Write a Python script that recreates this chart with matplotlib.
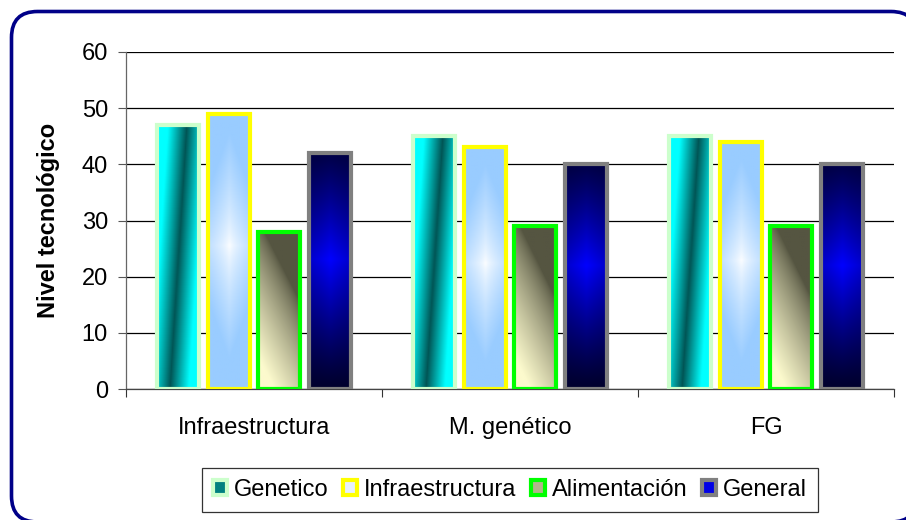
import numpy as np
import matplotlib
matplotlib.use('Agg')
import matplotlib.pyplot as plt
from matplotlib.patches import FancyBboxPatch, Patch

plt.rcParams['font.family'] = ['Liberation Sans', 'DejaVu Sans']

categories = ['Infraestructura', 'M. genético', 'FG']
series_names = ['Genetico', 'Infraestructura', 'Alimentación', 'General']
genetico = [47, 45, 45]
infraestructura = [49, 43, 44]
alimentacion = [28, 29, 29]
general = [42, 40, 40]
y_ticks = [0, 10, 20, 30, 40, 50, 60]
y_label = 'Nivel tecnológico'

values = [genetico, infraestructura, alimentacion, general]
edge_colors = ['#ccffcc', '#ffff00', '#00ff00', '#808080']
legend_faces = ['#008080', '#e6f0ff', '#b4b48c', '#0000e6']


def grad(kind, ny=160, nx=40):
    y = np.linspace(0, 1, ny)[:, None] * np.ones((1, nx))
    x = np.ones((ny, 1)) * np.linspace(0, 1, nx)[None, :]
    if kind == 0:
        u = x - 0.5 - 0.4 * (y - 0.5)
        t = np.clip(np.abs(u) / 0.45, 0, 1)[..., None]
        dark = np.array([0, 85, 85]) / 255
        light = np.array([0, 255, 255]) / 255
        return dark * (1 - t) + light * t
    if kind == 1:
        t = np.clip(2.4 * np.abs(y - 0.52) + 1.0 * np.abs(x - 0.5), 0, 1) ** 0.7
        t = t[..., None]
        white = np.array([1, 1, 1])
        blue = np.array([153, 204, 255]) / 255
        return white * (1 - t) + blue * t
    if kind == 2:
        L = np.clip((1 - y) * 1.15 - 0.6 * x + 0.08, 0, 1) ** 0.75
        L = L[..., None]
        dark = np.array([85, 85, 65]) / 255
        cream = np.array([252, 250, 205]) / 255
        return dark * (1 - L) + cream * L
    t = np.clip(1 - np.abs(y - 0.55) / 0.55, 0, 1) ** 1.2
    t = t * (1 - 0.25 * np.abs(x - 0.5) * 2)
    t = t[..., None]
    dark = np.array([0, 0, 45]) / 255
    blue = np.array([0, 0, 255]) / 255
    return dark * (1 - t) + blue * t


fig = plt.figure(figsize=(9.06, 5.2), dpi=100)

frame = FancyBboxPatch((11.5 / 100, -2 / 100), (917 - 11.5) / 100, (508.5 + 2) / 100,
                       boxstyle='round,pad=0,rounding_size=0.26',
                       transform=fig.dpi_scale_trans, facecolor='white',
                       edgecolor='#000088', linewidth=2.6, zorder=0)
fig.add_artist(frame)

ax = fig.add_axes([126 / 906, 131 / 520, 768 / 906, 337 / 520])
ax.set_facecolor('none')

x = np.arange(len(categories))
pitch = 0.197
width = 0.165
for i, vals in enumerate(values):
    pos = x + (i - 1.5) * pitch
    bars = ax.bar(pos, vals, width=width, facecolor='none',
                  edgecolor=edge_colors[i], linewidth=3.0, zorder=4)
    img = grad(i)
    for b in bars:
        x0 = b.get_x()
        im = ax.imshow(img, extent=[x0, x0 + b.get_width(), 0, b.get_height()],
                       origin='lower', aspect='auto', zorder=3, interpolation='bilinear')
        im.set_clip_path(b)

ax.set_xlim(-0.5, len(categories) - 0.5)
ax.set_ylim(0, 60)
ax.set_yticks(y_ticks)
ax.yaxis.grid(True, color='black', linewidth=0.9)
ax.set_axisbelow(True)
ax.tick_params(axis='y', direction='out', length=6, width=0.8, pad=7, labelsize=17, color='#555555')

ax.set_xticks(x)
ax.set_xticklabels(categories)
ax.tick_params(axis='x', which='major', length=0, pad=20, labelsize=17)
ax.set_xticks(np.arange(-0.5, len(categories)), minor=True)
ax.tick_params(axis='x', which='minor', direction='out', length=6, width=0.8, color='#333333')

for s in ['top', 'right']:
    ax.spines[s].set_visible(False)
ax.spines['left'].set_color('#666666')
ax.spines['bottom'].set_color('#444444')
ax.spines['left'].set_linewidth(0.9)
ax.spines['bottom'].set_linewidth(0.9)

ax.set_ylabel(y_label, fontsize=17, fontweight='bold')
ax.yaxis.set_label_coords(-0.086, 0.5)

handles = [Patch(facecolor=legend_faces[i], edgecolor=edge_colors[i], linewidth=3)
           for i in range(4)]
leg = fig.legend(handles, series_names, loc='center', bbox_to_anchor=(510 / 906, 30 / 520),
                 ncol=4, fontsize=17, frameon=True, fancybox=False, shadow=False,
                 handlelength=0.6, handleheight=0.6, handletextpad=0.3, columnspacing=0.6,
                 borderpad=0.45, borderaxespad=0)
leg.get_frame().set_edgecolor('black')
leg.get_frame().set_linewidth(0.9)

fig.savefig('out.png', dpi=100)
